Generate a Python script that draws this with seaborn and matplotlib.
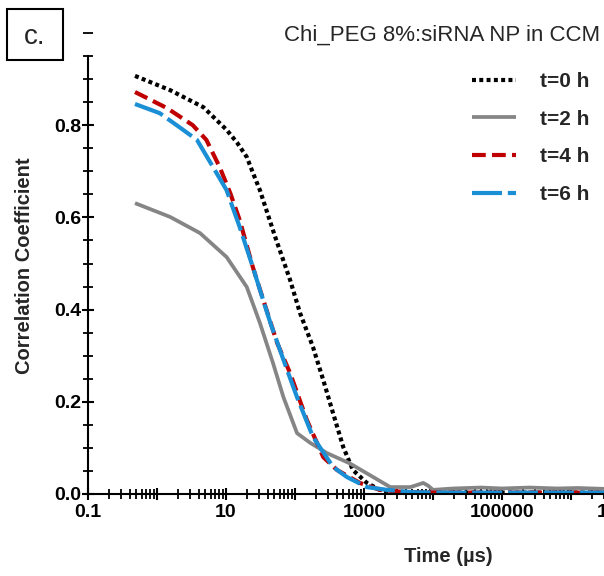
import numpy as np
import pandas as pd
import matplotlib
matplotlib.use("Agg")
import matplotlib.pyplot as plt
from matplotlib.patches import Rectangle
from matplotlib.ticker import FixedLocator, MultipleLocator, LogLocator, NullFormatter
import seaborn as sns

# ---- data ----
t0_time = [0.48, 1.55, 4.7, 10.2, 14.5, 20, 24.5, 31, 51, 85, 118, 182, 257, 355, 500, 690, 1100, 1700, 3000, 1e4, 1e5, 1e6, 3.2e6]
t0_corr = [0.907, 0.876, 0.839, 0.790, 0.762, 0.731, 0.697, 0.659, 0.56, 0.464, 0.393, 0.319, 0.247, 0.176, 0.102, 0.052, 0.024, 0.009, 0.004, 0.003, 0.003, 0.003, 0.003]

t2_time = [0.48, 1.55, 4.2, 10.2, 20, 31, 48, 68, 107, 166, 288, 630, 1350, 2400, 4700, 6000, 7200, 8500, 1e4, 2e4, 5e4, 1e5, 2.5e5, 6.3e5, 1.26e6, 3.2e6]
t2_corr = [0.631, 0.601, 0.566, 0.514, 0.449, 0.371, 0.284, 0.210, 0.132, 0.111, 0.089, 0.066, 0.037, 0.015, 0.015, 0.020, 0.024, 0.018, 0.009, 0.012, 0.014, 0.012, 0.014, 0.012, 0.013, 0.011]

t4_time = [0.48, 1.4, 3.3, 5.2, 8.1, 11.5, 15.8, 24.5, 34.7, 55, 85, 148, 257, 407, 870, 1700, 4000, 1e4, 1e5, 1e6, 3.2e6]
t4_corr = [0.872, 0.837, 0.800, 0.768, 0.709, 0.653, 0.594, 0.492, 0.421, 0.328, 0.262, 0.161, 0.080, 0.052, 0.024, 0.009, 0.004, 0.003, 0.003, 0.003, 0.003]

t6_time = [0.48, 1.1, 2.1, 3.8, 6.5, 10.2, 15.8, 24.5, 31, 44, 68, 107, 182, 355, 562, 1100, 2140, 5000, 1e4, 1e5, 1e6, 3.2e6]
t6_corr = [0.846, 0.826, 0.796, 0.768, 0.709, 0.659, 0.579, 0.492, 0.443, 0.371, 0.291, 0.210, 0.124, 0.059, 0.037, 0.015, 0.009, 0.004, 0.003, 0.003, 0.003, 0.003]

labels = ["t=0 h", "t=2 h", "t=4 h", "t=6 h"]
x_ticks = [0.1, 1, 10, 100, 1000, 1e4, 1e5, 1e6, 1e7, 1e8]
x_tick_labels = ["0.1", "", "10", "", "1000", "", "100000", "", "10000000", ""]
y_ticks = [0.0, 0.2, 0.4, 0.6, 0.8]
y_tick_labels = ["0.0", "0.2", "0.4", "0.6", "0.8"]
title = "Chi_PEG 8%:siRNA NP in CCM"
panel = "c."

# ---- style ----
sns.set_style("ticks")
plt.rcParams['font.family'] = ['Liberation Sans', 'DejaVu Sans']

fig = plt.figure(figsize=(6.04, 5.76), dpi=100)
W, H = 604, 576
ax_left, ax_right, ax_bottom, ax_top = 88, 709, 494, 33
ax = fig.add_axes([ax_left / W, 1 - ax_bottom / H, (ax_right - ax_left) / W, (ax_bottom - ax_top) / H])

series = [
    (t0_time, t0_corr, labels[0], "#000000", (0.95, 0.8), 3.0),
    (t2_time, t2_corr, labels[1], "#858585", None, 2.7),
    (t4_time, t4_corr, labels[2], "#c00000", (3.3, 1.5), 3.0),
    (t6_time, t6_corr, labels[3], "#1a8fd6", (7.2, 1.4), 3.0),
]
for tx, cy, lab, col, dash, lw in series:
    df = pd.DataFrame({"time": tx, "corr": cy})
    sns.lineplot(data=df, x="time", y="corr", ax=ax, color=col, linewidth=lw, label=lab, sort=False)
    ln = ax.lines[-1]
    if dash is not None:
        ln.set_dashes(dash)
    ln.set_solid_capstyle("butt")
    ln.set_dash_capstyle("butt")
    ln.set_solid_joinstyle("round")
    ln.set_dash_joinstyle("round")

ax.set_xscale("log")
ax.set_xlim(0.1, 1e8)
ax.set_ylim(0, 1.0)

ax.xaxis.set_major_locator(FixedLocator(x_ticks))
ax.set_xticklabels(x_tick_labels)
ax.xaxis.set_minor_locator(LogLocator(base=10, subs=np.arange(2, 10), numticks=100))
ax.xaxis.set_minor_formatter(NullFormatter())
ax.yaxis.set_major_locator(FixedLocator(y_ticks))
ax.set_yticklabels(y_tick_labels)
ax.yaxis.set_minor_locator(MultipleLocator(0.05))

for s in ["top", "right"]:
    ax.spines[s].set_visible(False)
for s in ["left", "bottom"]:
    ax.spines[s].set_linewidth(1.5)
    ax.spines[s].set_color("black")
ax.spines["left"].set_bounds(0, 0.95)

ax.tick_params(axis="both", which="major", direction="inout", length=8, width=1.5, colors="black",
               labelsize=14, pad=1)
ax.tick_params(axis="both", which="minor", direction="inout", length=7, width=1.3, colors="black")
ax.tick_params(axis="x", which="major", pad=3)
for tl in ax.get_xticklabels() + ax.get_yticklabels():
    tl.set_fontweight("bold")

ax.set_xlabel("Time (µs)", fontsize=14.5, fontweight="bold")
ax.xaxis.set_label_coords((448 - ax_left) / (ax_right - ax_left), -(556 - ax_bottom) / (ax_bottom - ax_top), transform=ax.transAxes)
ax.set_ylabel("Correlation Coefficient", fontsize=14.5, fontweight="bold")
ax.yaxis.set_label_coords(-(ax_left - 25) / (ax_right - ax_left), (494 - 266) / (ax_bottom - ax_top))
ax.yaxis.label.set_va("center")
ax.xaxis.label.set_va("center")

leg = ax.legend(loc="upper left", bbox_to_anchor=(472 / W, 1 - 72 / H), bbox_transform=fig.transFigure,
                frameon=False, prop={"weight": "bold", "size": 15}, handlelength=2.1,
                handletextpad=1.15, labelspacing=0.9, borderpad=0, borderaxespad=0)

fig.text(600 / W, 1 - 35 / H, title, ha="right", va="center", fontsize=16)
fig.patches.append(Rectangle((7 / W, 1 - 60 / H), 56 / W, 51 / H, transform=fig.transFigure,
                             fill=False, edgecolor="black", linewidth=1.5))
fig.text(35 / W, 1 - 37 / H, panel, ha="center", va="center", fontsize=20)

fig.savefig("out.png", dpi=100)
